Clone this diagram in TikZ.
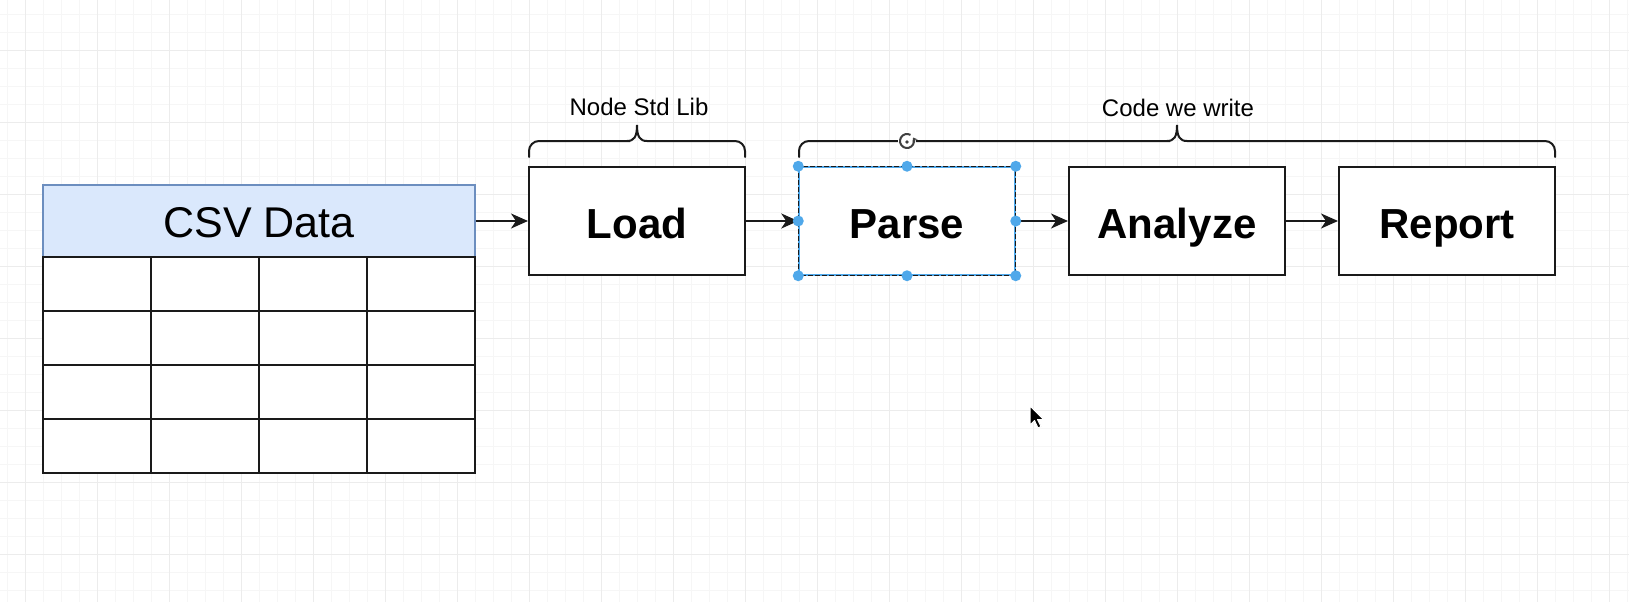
\documentclass[tikz,border=0pt]{standalone}
\usepackage{fontspec}
\setmainfont{Liberation Sans}
\usetikzlibrary{arrows.meta}
\definecolor{gridminor}{HTML}{F6F6F6}
\definecolor{gridmajor}{HTML}{ECECEC}
\definecolor{hdrfill}{HTML}{DAE8FC}
\definecolor{hdrline}{HTML}{6C8EBF}
\definecolor{selblue}{HTML}{4FA8EA}
\definecolor{boxline}{HTML}{1A1A1A}
\tikzset{
  proc/.style={draw=boxline, line width=2pt, fill=white, minimum width=216pt, minimum height=108pt,
    inner sep=0pt, text height=34pt, text depth=0pt, font=\bfseries\fontsize{42}{48}\selectfont},
  arr/.style={draw=boxline, line width=2pt, -{Stealth[length=17pt,width=15pt,inset=5pt]}},
  bracepath/.style={draw=boxline, line width=2pt, line cap=round},
  bracelabel/.style={anchor=base, font=\fontsize{24}{28}\selectfont, inner sep=0pt},
  handle/.style={circle, fill=selblue, minimum size=11pt, inner sep=0pt},
  gminor/.style={draw=gridminor, line width=1pt},
  gmajor/.style={draw=gridmajor, line width=1pt},
  tline/.style={draw=boxline, line width=2pt}
}
\begin{document}
\begin{tikzpicture}[x=1pt, y=-1pt]
\useasboundingbox (0,0) rectangle (1629,602);
\fill[white] (0,0) rectangle (1629,602);
% background grid
\foreach \i in {0,...,90} {\draw[gminor] ({7.3+18*\i},0) -- ({7.3+18*\i},602);}
\foreach \i in {0,...,33} {\draw[gminor] (0,{14.3+18*\i}) -- (1629,{14.3+18*\i});}
\foreach \i in {0,...,22} {\draw[gmajor] ({25+72*\i},0) -- ({25+72*\i},602);}
\foreach \i in {0,...,8} {\draw[gmajor] (0,{50.7+72*\i}) -- (1629,{50.7+72*\i});}

% CSV table
\node[draw=hdrline, line width=1.5pt, fill=hdrfill, minimum width=432pt, minimum height=72pt,
  inner sep=0pt, text height=33pt, text depth=0pt, font=\fontsize{43}{48}\selectfont] (csv) at (259,221) {CSV Data};
\fill[white] (43,257) rectangle (475,473);
\draw[tline] (43,257) rectangle (475,473);
\foreach \yy in {311,365,419} {\draw[tline] (43,\yy) -- (475,\yy);}
\foreach \xx in {151,259,367} {\draw[tline] (\xx,257) -- (\xx,473);}

% process boxes
\node[proc] (load) at (637,221) {Load};
\node[proc, draw=selblue, line width=1.5pt] (parse) at (907,221) {Parse};
\draw[boxline, line width=1.2pt, dash pattern=on 5pt off 2pt] (parse.north west) rectangle (parse.south east);
\node[proc] (analyze) at (1177,221) {Analyze};
\node[proc] (report) at (1447,221) {Report};

% connectors
\draw[arr] (csv.east) -- (load.west);
\draw[arr] (load.east) -- (parse.west);
\draw[arr] (parse.east) -- (analyze.west);
\draw[arr] (analyze.east) -- (report.west);

% braces
\coordinate (b1l) at (529,157);
\coordinate (b1r) at (745,157);
\coordinate (b1t) at (637,125);
\draw[bracepath] (b1l) [rounded corners=10pt] -- (529,141) -- (620,141) [sharp corners] -- (627,141)
  .. controls (634,141) and (637,137) .. (b1t)
  .. controls (637,137) and (640,141) .. (647,141)
  -- (654,141) [rounded corners=10pt] -- (745,141) -- (b1r);
\node[bracelabel] (lib) at (639,115) {Node Std Lib};

\coordinate (b2l) at (799,157);
\coordinate (b2r) at (1555,157);
\coordinate (b2t) at (1177,125);
\draw[bracepath] (b2l) [rounded corners=10pt] -- (799,141) -- (1160,141) [sharp corners] -- (1167,141)
  .. controls (1174,141) and (1177,137) .. (b2t)
  .. controls (1177,137) and (1180,141) .. (1187,141)
  -- (1194,141) [rounded corners=10pt] -- (1555,141) -- (b2r);
\node[bracelabel] (code) at (1178,116) {Code we write};

% selection handles
\foreach \a in {north west, north, north east, west, east, south west, south, south east}
  {\node[handle] at (parse.\a) {};}

% rotate handle
\node[circle, fill=white, minimum size=18pt, inner sep=0pt] (rot) at (907,141) {};
\draw[line width=2pt, draw=black!75, -{Stealth[length=4pt,width=6pt]}]
  (907,141) ++(60:7pt) arc[start angle=60, end angle=390, radius=7pt];
\fill[black!75] (907,142) circle (1.8pt);

% mouse cursor
\draw[fill=black, draw=white, line width=1pt, line join=round]
  (1030,406) -- (1030,425) -- (1034.5,420.5) -- (1038,428) -- (1041,426.5) -- (1037.5,419.5) -- (1043.5,419.5) -- cycle;
\end{tikzpicture}
\end{document}
